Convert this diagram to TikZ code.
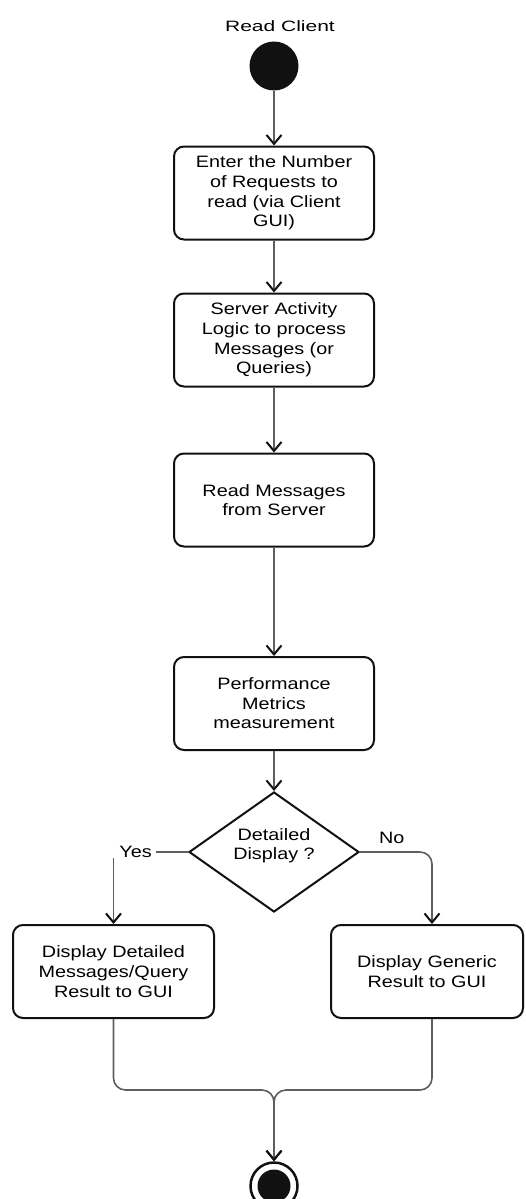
\documentclass[tikz,border=0pt]{standalone}
\usepackage{fontspec}
\setmainfont[FakeStretch=1.2]{Liberation Sans}
\usetikzlibrary{shapes.geometric,arrows.meta,positioning,calc}
\definecolor{edgegray}{HTML}{5E5E5E}
\definecolor{inkblack}{HTML}{111111}

\begin{document}
\begin{tikzpicture}[x=1pt,y=-1pt,
  font=\fontsize{16.5}{19.6}\selectfont,
  activity/.style={draw=inkblack,line width=2pt,rounded corners=10pt,align=center,
    minimum width=200pt,minimum height=93pt,inner sep=0pt},
  decision/.style={diamond,aspect=1.42,draw=inkblack,line width=2pt,align=center,
    minimum width=170pt,minimum height=120pt,inner sep=0pt},
  flow/.style={draw=edgegray,line width=1.6pt,
    -{Straight Barb[color=inkblack,length=9pt,width=15pt,line width=2pt]}},
  link/.style={draw=edgegray,line width=1.6pt},
  startnode/.style={circle,fill=inkblack,minimum size=49pt,inner sep=0pt},
  finalnode/.style={circle,draw=inkblack,line width=2.5pt,minimum size=47pt,inner sep=0pt,
    path picture={\fill[inkblack] (path picture bounding box.center) circle (16.5pt);}}]
  \useasboundingbox (0,0) rectangle (526,1199);
  \clip (0,0) rectangle (526,1199);

  % main column
  \node[font=\fontsize{15}{18}\selectfont\addfontfeatures{FakeStretch=1.4}] (title) at (280,26) {Read Client};
  \node[startnode] (start) at (274,66) {};
  \node[activity] (enter) at (274,193) {Enter the Number\\of Requests to\\read (via Client\\GUI)};
  \node[activity] (logic) at (274,340) {Server Activity\\Logic to process\\Messages (or\\Queries)};
  \node[activity] (readmsg) at (274,500) {Read Messages\\from Server};
  \node[activity] (perf) at (274,703.5) {Performance\\Metrics\\measurement};
  \node[decision] (detail) at (274,852) {Detailed\\Display ?\\[-4pt]\mbox{}};

  % branches
  \node[inner sep=4pt] (yeslbl) at (135.5,852) {Yes};
  \node[activity,minimum width=201pt] (yes) at (113.5,971.5) {Display Detailed\\Messages/Query\\Result to GUI};
  \node[activity,minimum width=192pt] (no) at (427,971.5) {Display Generic\\Result to GUI};
  \coordinate (join) at (274,1090);
  \node[finalnode] (final) at (274,1186) {};

  \draw[flow] (start) -- (enter);
  \draw[flow] (enter) -- (logic);
  \draw[flow] (logic) -- (readmsg);
  \draw[flow] (readmsg) -- (perf);
  \draw[flow] (perf) -- (detail);
  \draw[link] (detail.west) -- (yeslbl.east);
  \draw[flow] ([yshift=4pt]yes.north |- yeslbl.south) -- (yes.north);
  \draw[flow,rounded corners=12pt] (detail.east) -| node[pos=0.22,above=4pt] {No} ([xshift=5pt]no.north);
  \draw[flow,rounded corners=12pt] (yes.south) |- (join) -- (final.north);
  \draw[flow,rounded corners=12pt] ([xshift=5pt]no.south) |- (join) -- (final.north);
\end{tikzpicture}
\end{document}
